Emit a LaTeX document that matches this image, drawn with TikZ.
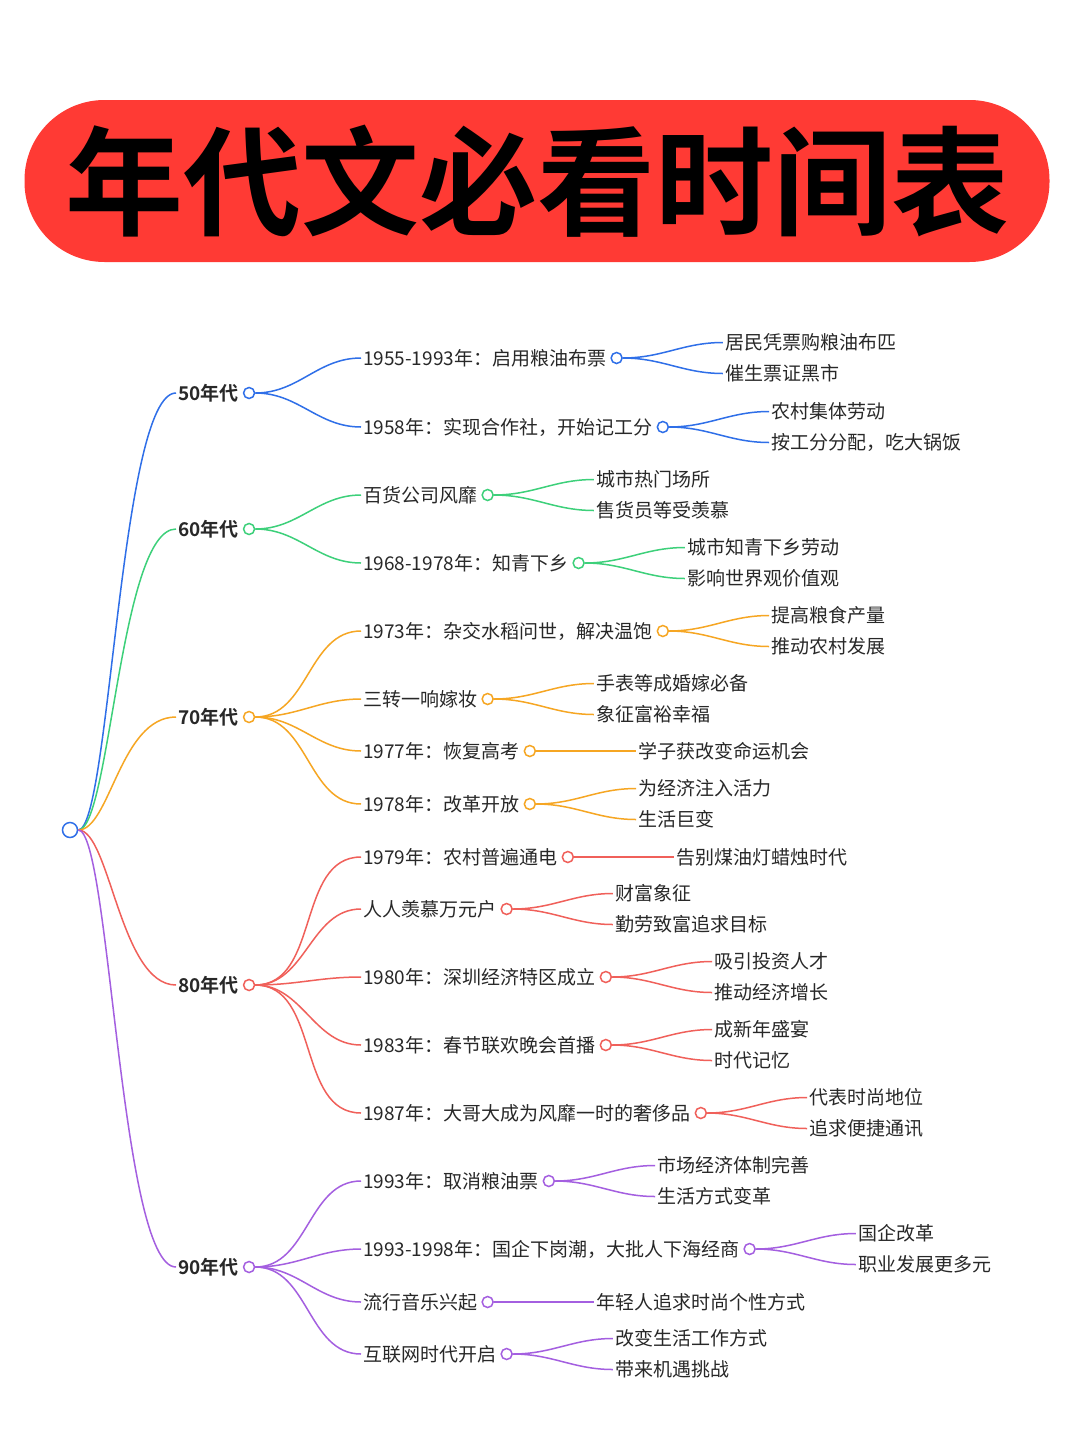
\documentclass[tikz,border=0pt]{standalone}
\usepackage{fontspec}
\setmainfont{Noto Sans CJK SC}[BoldFont={Noto Sans CJK SC Bold}]
\usetikzlibrary{positioning,calc}
\definecolor{blue1}{RGB}{47, 111, 232}
\definecolor{green1}{RGB}{61, 208, 122}
\definecolor{orange1}{RGB}{246, 166, 35}
\definecolor{red1}{RGB}{240, 96, 90}
\definecolor{purple1}{RGB}{164, 95, 224}
\definecolor{title1}{RGB}{255, 58, 52}
\definecolor{text1}{RGB}{40, 40, 40}
\tikzset{
  txt/.style={anchor=west, inner sep=2pt, text=text1, font=\fontsize{19}{20}\selectfont},
  decade/.style={anchor=west, inner sep=2pt, text=text1, font=\bfseries\fontsize{19}{20}\selectfont},
  dot/.style={circle, draw=#1, fill=white, line width=1.5pt, minimum size=11pt, inner sep=0pt},
  link/.style={draw=#1, line width=1.5pt},
}

\begin{document}
\begin{tikzpicture}[x=1pt, y=-1pt]
  \useasboundingbox (0,0) rectangle (1080,1443);
  \fill[white] (0,0) rectangle (1080,1443);
  % title
  \node[fill=title1, rounded corners=80pt, minimum width=1025pt, minimum height=162pt,
        font=\bfseries\fontsize{118}{120}\selectfont] (title) at (537,181) {年代文必看时间表};

  \node[dot=blue1, minimum size=15pt] (root) at (70,830) {};

  % decades
  \foreach \d/\y/\col in {5/393/blue1, 6/529/green1, 7/717/orange1, 8/985/red1, 9/1267/purple1}{
    \node[decade] (d\d) at (176,\y) {\d0年代};
    \node[dot=\col, right=2pt of d\d] (dc\d) {};
    \draw[link=\col] (root.east) .. controls (110,830) and (120,\y) .. (d\d.west);
  }

  % items with two leaves
  \foreach \n/\d/\y/\col/\t/\a/\b in {
    1/5/358/blue1/{1955-1993年：启用粮油布票}/居民凭票购粮油布匹/催生票证黑市,
    2/5/427/blue1/{1958年：实现合作社，开始记工分}/农村集体劳动/按工分分配，吃大锅饭,
    3/6/495/green1/百货公司风靡/城市热门场所/售货员等受羡慕,
    4/6/563/green1/{1968-1978年：知青下乡}/城市知青下乡劳动/影响世界观价值观,
    5/7/631/orange1/{1973年：杂交水稻问世，解决温饱}/提高粮食产量/推动农村发展,
    6/7/699/orange1/三转一响嫁妆/手表等成婚嫁必备/象征富裕幸福,
    8/7/804/orange1/{1978年：改革开放}/为经济注入活力/生活巨变,
    10/8/909/red1/人人羡慕万元户/财富象征/勤劳致富追求目标,
    11/8/977/red1/{1980年：深圳经济特区成立}/吸引投资人才/推动经济增长,
    12/8/1045/red1/{1983年：春节联欢晚会首播}/成新年盛宴/时代记忆,
    13/8/1113/red1/{1987年：大哥大成为风靡一时的奢侈品}/代表时尚地位/追求便捷通讯,
    14/9/1181/purple1/{1993年：取消粮油票}/市场经济体制完善/生活方式变革,
    15/9/1249/purple1/{1993-1998年：国企下岗潮，大批人下海经商}/国企改革/职业发展更多元,
    17/9/1354/purple1/互联网时代开启/改变生活工作方式/带来机遇挑战}{
    \node[txt] (i\n) at (361,\y) {\t};
    \node[dot=\col, right=2pt of i\n] (c\n) {};
    \node[txt] (la\n) at ($(c\n.east)+(100,-15.5)$) {\a};
    \node[txt] (lb\n) at ($(c\n.east)+(100,15.5)$) {\b};
    \draw[link=\col] (dc\d.east) to[out=0, in=180] (i\n.west);
    \draw[link=\col] (c\n.east) to[out=0, in=180] (la\n.west);
    \draw[link=\col] (c\n.east) to[out=0, in=180] (lb\n.west);
  }

  % items with one leaf
  \foreach \n/\d/\y/\col/\t/\a in {
    7/7/751/orange1/{1977年：恢复高考}/学子获改变命运机会,
    9/8/857/red1/{1979年：农村普遍通电}/告别煤油灯蜡烛时代,
    16/9/1302/purple1/流行音乐兴起/年轻人追求时尚个性方式}{
    \node[txt] (i\n) at (361,\y) {\t};
    \node[dot=\col, right=2pt of i\n] (c\n) {};
    \node[txt] (la\n) at ($(c\n.east)+(100,0)$) {\a};
    \draw[link=\col] (dc\d.east) to[out=0, in=180] (i\n.west);
    \draw[link=\col] (c\n.east) -- (la\n.west);
  }
\end{tikzpicture}
\end{document}
